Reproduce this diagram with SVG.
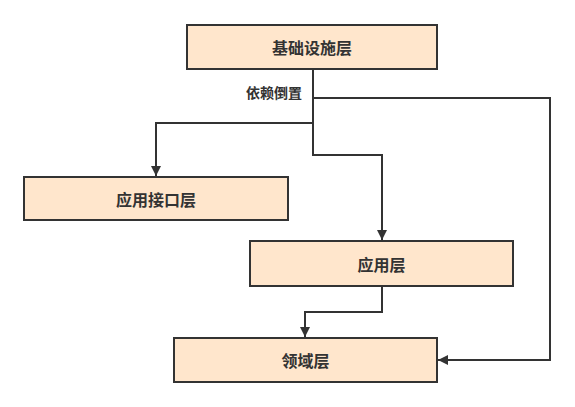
<svg xmlns="http://www.w3.org/2000/svg" width="575" height="407" viewBox="0 0 575 407">
<style>
.box{fill:#FFE6CC;stroke:#333333;stroke-width:2}
.t{font-family:"Noto Sans CJK SC","Liberation Sans",sans-serif;font-size:16px;font-weight:bold;fill:#333333;text-anchor:middle;dominant-baseline:central}
.lbl{font-family:"Noto Sans CJK SC","Liberation Sans",sans-serif;font-size:14px;font-weight:bold;fill:#333333;text-anchor:end;dominant-baseline:central}
.c{fill:none;stroke:#333333;stroke-width:2}
</style>
<defs>
<marker id="ah" viewBox="0 0 10 10" refX="10" refY="5" markerWidth="5" markerHeight="5" orient="auto" markerUnits="strokeWidth">
<path d="M0,0 L10,5 L0,10 Z" fill="#333333"/>
</marker>
</defs>
<g id="connectors">
<path class="c" d="M313,69 V123 H156 V176" marker-end="url(#ah)"/>
<path class="c" d="M313,123 V155 H382 V240" marker-end="url(#ah)"/>
<path class="c" d="M313,98 H550 V360 H438" marker-end="url(#ah)"/>
<path class="c" d="M382,286 V312 H305 V337" marker-end="url(#ah)"/>
<text class="lbl" x="302" y="92">依赖倒置</text>
</g>
<g id="infra">
<rect class="box" x="187" y="25" width="250" height="44"/>
<text class="t" x="312" y="47">基础设施层</text>
</g>
<g id="api">
<rect class="box" x="24" y="177" width="264" height="43"/>
<text class="t" x="156" y="198.5">应用接口层</text>
</g>
<g id="app">
<rect class="box" x="250" y="241" width="263" height="45"/>
<text class="t" x="381.5" y="263.5">应用层</text>
</g>
<g id="domain">
<rect class="box" x="174" y="338" width="263" height="44"/>
<text class="t" x="305.5" y="360">领域层</text>
</g>
</svg>
